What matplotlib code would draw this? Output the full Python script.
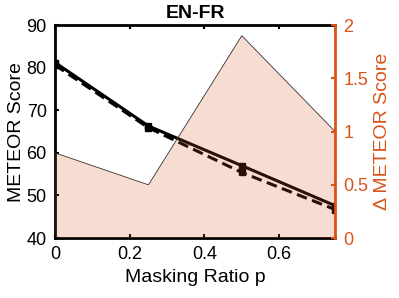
import numpy as np
import matplotlib.pyplot as plt

plt.rcParams['font.family'] = ['Liberation Sans', 'DejaVu Sans']

# masking ratio and scores
ratio = [0, 0.25, 0.5, 0.75]
meteor_solid = [81.2, 66.3, 57.0, 47.6]
meteor_dash = [80.6, 65.9, 55.4, 46.7]
delta = [0.8, 0.5, 1.9, 1.0]

orange = '#d95319'

fig = plt.figure(figsize=(3.99, 2.98), dpi=100)
ax = fig.add_axes([0.138, 0.201, 0.702, 0.715])

ax.plot(ratio, meteor_solid, '-', color='k', lw=2.2, marker='s', ms=4)
ax.plot(ratio, meteor_dash, '--', color='k', lw=2.2, marker='s', ms=4, dashes=(3.5, 1.8))
ax.set_xlim(0, 0.75)
ax.set_ylim(40, 90)
ax.set_xticks([0, 0.2, 0.4, 0.6])
ax.set_xticklabels(['0', '0.2', '0.4', '0.6'])
ax.set_yticks([40, 50, 60, 70, 80, 90])
ax.tick_params(direction='in', length=3, width=1.5, labelsize=13, top=True, pad=6)
for s in ['left', 'top', 'bottom']:
    ax.spines[s].set_linewidth(2)
ax.set_xlabel('Masking Ratio p', fontsize=14)
ax.set_ylabel('METEOR Score', fontsize=14, labelpad=1)
ax.set_title('EN-FR', fontsize=14, fontweight='bold', pad=5)

# delta on right axis, drawn on top with transparency
ax2 = ax.twinx()
ax2.fill_between(ratio, 0, delta, facecolor=orange, alpha=0.2, lw=0)
ax2.plot(ratio, delta, color='#333333', lw=0.6)
ax2.set_ylim(0, 2)
ax2.set_yticks([0, 0.5, 1, 1.5, 2])
ax2.set_yticklabels(['0', '0.5', '1', '1.5', '2'])
ax2.tick_params(direction='in', length=3, width=1.5, labelsize=13, colors=orange, pad=6)
ax2.spines['right'].set_color(orange)
ax2.spines['right'].set_linewidth(2)
for s in ['left', 'top', 'bottom']:
    ax2.spines[s].set_visible(False)
ax2.set_ylabel('Δ METEOR Score', fontsize=14, color=orange, labelpad=4)

plt.savefig('out.png', dpi=100)
